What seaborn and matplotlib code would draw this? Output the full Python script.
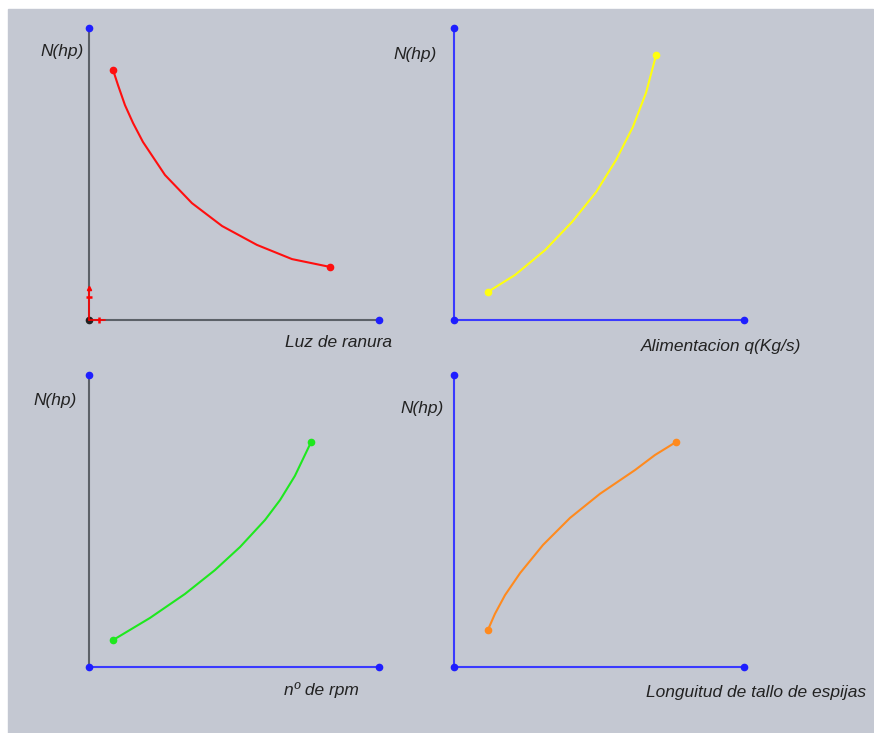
import matplotlib
matplotlib.use("Agg")
import matplotlib.pyplot as plt
import matplotlib.patches as mpatches
import seaborn as sns
import pandas as pd

sns.set_theme(style="white")
plt.rcParams["font.family"] = ["Liberation Sans", "DejaVu Sans"]

W, H = 874, 733
BG = "#c4c8d2"
AX_GRAY = "#5c6168"
AX_BLUE = "#3a3aff"
DOT_BLUE = "#1e1eff"

# Curve data for each panel (axis length = 10 units on both axes)
luz_x = [0.83, 1.00, 1.24, 1.52, 1.86, 2.62, 3.55, 4.59, 5.79, 7.00, 8.31]
luz_y = [8.62, 8.10, 7.41, 6.79, 6.14, 5.00, 4.03, 3.24, 2.59, 2.10, 1.83]

alim_x = [1.17, 2.10, 3.14, 4.07, 4.90, 5.59, 6.17, 6.62, 6.97]
alim_y = [0.97, 1.55, 2.41, 3.38, 4.41, 5.52, 6.66, 7.83, 9.14]

rpm_x = [0.83, 2.10, 3.31, 4.34, 5.21, 6.07, 6.59, 7.10, 7.66]
rpm_y = [0.93, 1.69, 2.52, 3.34, 4.14, 5.07, 5.76, 6.59, 7.76]

tallo_x = [1.17, 1.41, 1.76, 2.28, 3.07, 4.00, 5.03, 6.24, 6.93, 7.66]
tallo_y = [1.28, 1.83, 2.48, 3.24, 4.21, 5.14, 5.97, 6.79, 7.31, 7.76]

y_label = "N(hp)"
x_labels = ["Luz de ranura", "Alimentacion q(Kg/s)", "nº de rpm",
            "Longuitud de tallo de espijas"]

fig = plt.figure(figsize=(W / 100, H / 100), dpi=100)
fig.patch.set_facecolor("white")
fig.patches.append(mpatches.Rectangle((8 / W, 0), (873 - 8) / W, (733 - 9) / H,
                                      transform=fig.transFigure, color=BG, zorder=-10))

UNIT = 29.0  # pixels per data unit
PAD = 1.5    # data units of margin around each panel's axis box
LW = 1.5
MS = 4.5


def panel(ox, oy, x, y, color, vcol, hcol, xlab, xlab_pos, ylab_pos, triad=False):
    """ox, oy: origin position in pixels from top-left."""
    left = (ox - PAD * UNIT) / W
    bottom = (H - oy - PAD * UNIT) / H
    size_w = (10 + 2 * PAD) * UNIT / W
    size_h = (10 + 2 * PAD) * UNIT / H
    ax = fig.add_axes([left, bottom, size_w, size_h])
    ax.patch.set_alpha(0)
    # axes lines
    ax.plot([0, 0], [0, 10.07], color=vcol, lw=LW, zorder=2, solid_capstyle="butt")
    ax.plot([0, 10.0], [0, 0], color=hcol, lw=LW, zorder=2, solid_capstyle="butt")
    ax.plot([0], [10.07], "o", color=DOT_BLUE, ms=MS, zorder=3)
    ax.plot([10.0], [0], "o", color=DOT_BLUE, ms=MS, zorder=3)
    if triad:
        ax.plot([0], [0], "o", color="#222222", ms=MS, zorder=4)
        ax.plot([0, 0], [0, 1.1], color="#ff0000", lw=1.2, zorder=5)
        ax.plot([0, 0.55], [0, 0], color="#ff0000", lw=1.2, zorder=5)
        ax.plot([0], [1.1], marker="^", color="#ff0000", ms=3, zorder=5)
        ax.plot([0], [0.8], marker="_", color="#ff0000", ms=4.5, mew=1.8, zorder=5)
        ax.plot([0.35], [0], marker="|", color="#ff0000", ms=4.5, mew=1.8, zorder=5)
    else:
        ax.plot([0], [0], "o", color=DOT_BLUE, ms=MS, zorder=3)
    df = pd.DataFrame({"x": x, "y": y})
    sns.lineplot(data=df, x="x", y="y", sort=False, color=color, lw=LW,
                 ax=ax, zorder=4)
    ax.plot([x[0], x[-1]], [y[0], y[-1]], "o", color=color, ms=MS, zorder=5)
    ax.set_xlim(-PAD, 10 + PAD)
    ax.set_ylim(-PAD, 10 + PAD)
    ax.set_xlabel("")
    ax.set_ylabel("")
    ax.axis("off")
    ax.text(xlab_pos[0], xlab_pos[1], xlab, ha="center", va="center",
            fontsize=12.5, style="italic", color="#222222")
    ax.text(ylab_pos[0], ylab_pos[1], y_label, ha="center", va="center",
            fontsize=12.5, style="italic", color="#222222")


panel(89, 320, luz_x, luz_y, "#ff0f0f", AX_GRAY, AX_GRAY, x_labels[0],
      (8.6, -0.76), (-0.93, 9.25), triad=True)
panel(454, 320, alim_x, alim_y, "#ffff10", AX_BLUE, AX_BLUE, x_labels[1],
      (9.2, -0.92), (-1.35, 9.17))
panel(89, 667, rpm_x, rpm_y, "#1ee81e", AX_GRAY, AX_BLUE, x_labels[2],
      (8.03, -0.78), (-1.17, 9.2))
panel(454, 667, tallo_x, tallo_y, "#ff8a1e", AX_BLUE, AX_BLUE, x_labels[3],
      (10.41, -0.88), (-1.1, 8.9))

fig.savefig("out.png", dpi=100, facecolor="white")
